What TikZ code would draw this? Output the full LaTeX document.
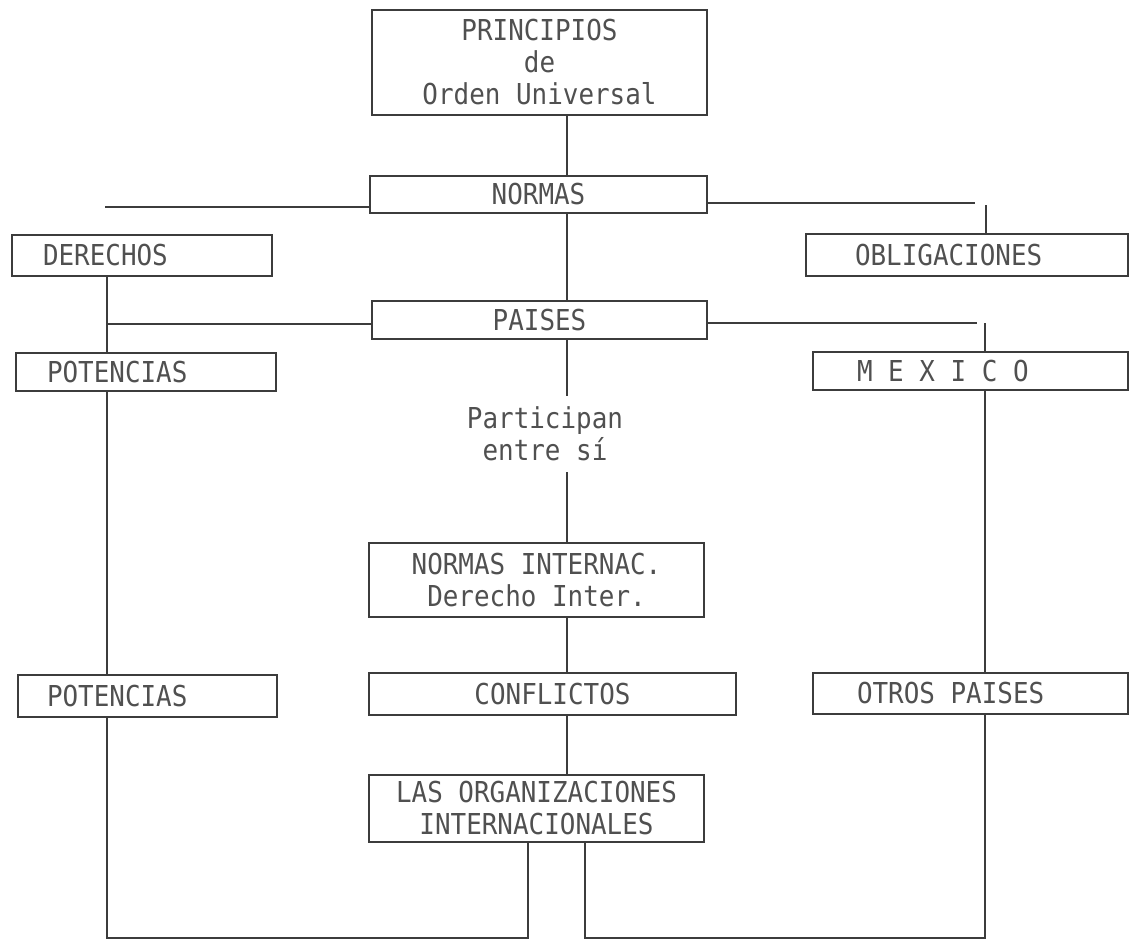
\documentclass[tikz,border=0pt]{standalone}
\usepackage{fontspec}
\usepackage{tikz}
\usetikzlibrary{positioning}
\newfontfamily\typewr[FakeStretch=0.9]{DejaVu Sans Mono}
\definecolor{inkgray}{HTML}{505050}
\definecolor{linegray}{HTML}{3C3C3C}

\begin{document}
\begin{tikzpicture}[x=0.5pt, y=-0.5pt, every node/.style={font=\typewr\fontsize{14.4pt}{16pt}\selectfont, text=inkgray},
	cbox/.style={draw=linegray, line width=0.75pt, rectangle, inner xsep=0pt, inner ysep=0pt, align=flush center},
	lbox/.style={cbox, align=flush left},
	link/.style={draw=linegray, line width=0.55pt}]
	\useasboundingbox (0,0) rectangle (1130,944);
	% boxes
	\node[cbox, minimum width=167.5pt, minimum height=52.5pt] (prin) at (539.5,62.5) {PRINCIPIOS\\de\\Orden Universal};
	\node[cbox, minimum width=168.5pt, minimum height=18.5pt] (normas) at (538.5,194.5) {NORMAS};
	\node[lbox, inner xsep=15.5pt, text width=99pt, minimum height=20.5pt] (derechos) at (142,255.5) {DERECHOS};
	\node[lbox, inner xsep=24.5pt, text width=112pt, minimum height=21pt] (oblig) at (967,255) {OBLIGACIONES};
	\node[cbox, minimum width=167.5pt, minimum height=19pt] (paises) at (539.5,320) {PAISES};
	\node[lbox, inner xsep=15.5pt, text width=99pt, minimum height=19pt] (pot1) at (146,372) {POTENCIAS};
	\node[lbox, inner xsep=22pt, text width=113.5pt, minimum height=19pt] (mexico) at (970.5,371) {M E X I C O};
	\node[align=flush center, inner sep=0pt, minimum height=38pt] (partic) at (545,434) {Participan\\entre sí};
	\node[cbox, minimum width=167.5pt, minimum height=37pt] (normint) at (536.5,580) {NORMAS INTERNAC.\\Derecho Inter.};
	\node[lbox, inner xsep=14.5pt, text width=100.5pt, minimum height=21pt] (pot2) at (147.5,696) {POTENCIAS};
	\node[cbox, minimum width=183.5pt, minimum height=21pt] (confl) at (552.5,694) {CONFLICTOS};
	\node[lbox, inner xsep=22pt, text width=113.5pt, minimum height=20.5pt] (otros) at (970.5,693.5) {OTROS PAISES};
	\node[cbox, minimum width=167.5pt, minimum height=33.5pt] (orgs) at (536.5,808.5) {LAS ORGANIZACIONES\\INTERNACIONALES};

	% guide lines
	\coordinate (cx) at (567,0);
	\coordinate (lx) at (107,0);
	\coordinate (rx) at (985,0);
	\coordinate (ogl) at (528,0);
	\coordinate (ogr) at (585,0);
	\coordinate (nl) at (105,207);
	\coordinate (nr) at (975,203);
	\coordinate (nrv) at (986,205);
	\coordinate (pl) at (107,324);
	\coordinate (pr) at (977,323);
	\coordinate (prv) at (985,323);
	\coordinate (bl) at (107,938);
	\coordinate (br) at (985,938);

	% centre chain
	\draw[link] (prin.south -| cx) -- (normas.north -| cx);
	\draw[link] (normas.south -| cx) -- (paises.north -| cx);
	\draw[link] (paises.south -| cx) -- (partic.north -| cx);
	\draw[link] (partic.south -| cx) -- (normint.north -| cx);
	\draw[link] (normint.south -| cx) -- (confl.north -| cx);
	\draw[link] (confl.south -| cx) -- (orgs.north -| cx);

	% side branches
	\draw[link] (nl) -- (nl -| normas.west);
	\draw[link] (normas.east |- nr) -- (nr);
	\draw[link] (nrv) -- (oblig.north -| nrv);
	\draw[link] (pl) -- (pl -| paises.west);
	\draw[link] (paises.east |- pr) -- (pr);
	\draw[link] (prv) -- (mexico.north -| prv);
	\draw[link] (derechos.south -| lx) -- (pot1.north -| lx);
	\draw[link] (pot1.south -| lx) -- (pot2.north -| lx);
	\draw[link] (mexico.south -| rx) -- (otros.north -| rx);

	% bottom loops
	\draw[link] (pot2.south -| lx) -- (bl) -- (bl -| ogl) -- (orgs.south -| ogl);
	\draw[link] (otros.south -| rx) -- (br) -- (br -| ogr) -- (orgs.south -| ogr);
\end{tikzpicture}
\end{document}
